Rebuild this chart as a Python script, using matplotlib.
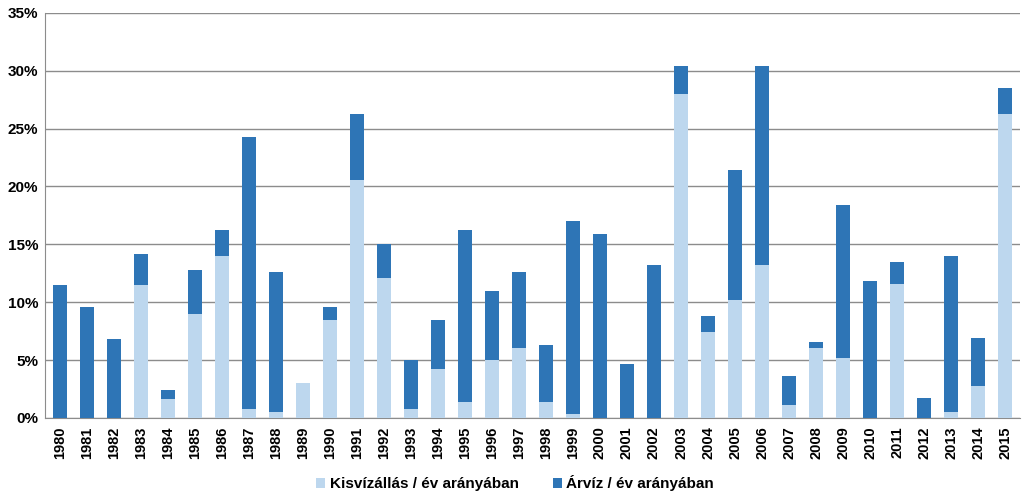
import matplotlib
matplotlib.use('Agg')
import matplotlib.pyplot as plt
from matplotlib.ticker import FuncFormatter

years = list(range(1980, 2016))
# Kisvízállás (low water) share of the year, %
low_water = [0, 0, 0, 11.5, 1.6, 9.0, 14.0, 0.8, 0.5, 3.0,
             8.5, 20.6, 12.1, 0.8, 4.2, 1.4, 5.0, 6.0, 1.4, 0.3,
             0, 0, 0, 28.0, 7.4, 10.2, 13.2, 1.1, 6.0, 5.2,
             0, 11.6, 0, 0.5, 2.8, 26.3]
# Árvíz (flood) share of the year, %
flood = [11.5, 9.6, 6.8, 2.7, 0.8, 3.8, 2.2, 23.5, 12.1, 0,
         1.1, 5.7, 2.9, 4.2, 4.3, 14.8, 6.0, 6.6, 4.9, 16.7,
         15.9, 4.7, 13.2, 2.4, 1.4, 11.2, 17.2, 2.5, 0.6, 13.2,
         11.8, 1.9, 1.7, 13.5, 4.1, 2.2]

light_blue = '#BDD7EE'
dark_blue = '#2E75B6'
fonts = ['Liberation Sans', 'DejaVu Sans']

fig = plt.figure(figsize=(10.24, 4.94), dpi=100)
ax = fig.add_axes([0.044, 0.154, 0.952, 0.82])

x = list(range(len(years)))
ax.bar(x, low_water, width=0.49, color=light_blue, label='Kisvízállás / év arányában', zorder=3)
ax.bar(x, flood, width=0.49, bottom=low_water, color=dark_blue, label='Árvíz / év arányában', zorder=3)

ax.set_ylim(0, 35)
ax.set_yticks(range(0, 36, 5))
ax.yaxis.set_major_formatter(FuncFormatter(lambda v, p: f'{int(v)}%'))
ax.set_xlim(-0.55, len(years) - 0.45)
ax.set_xticks(x)
ax.set_xticklabels([str(y) for y in years], rotation=90)

ax.grid(axis='y', color='#8c8c8c', linewidth=1.0, zorder=0)
for side in ['top', 'right']:
    ax.spines[side].set_visible(False)
ax.spines['left'].set_color('#8c8c8c')
ax.spines['bottom'].set_color('#8c8c8c')
ax.tick_params(axis='y', length=0, pad=5)
ax.tick_params(axis='x', length=0, pad=6)

for lbl in ax.get_yticklabels():
    lbl.set_fontfamily(fonts)
    lbl.set_fontweight('bold')
    lbl.set_fontsize(11)
for lbl in ax.get_xticklabels():
    lbl.set_fontfamily(fonts)
    lbl.set_fontweight('bold')
    lbl.set_fontsize(10.5)

leg = fig.legend(loc='center', bbox_to_anchor=(0.503, 0.022), ncol=2, frameon=False,
                 handlelength=0.6, handleheight=0.6, handletextpad=0.3, columnspacing=2.2,
                 prop={'family': fonts, 'weight': 'bold', 'size': 11})

fig.savefig('out.png', dpi=100)
